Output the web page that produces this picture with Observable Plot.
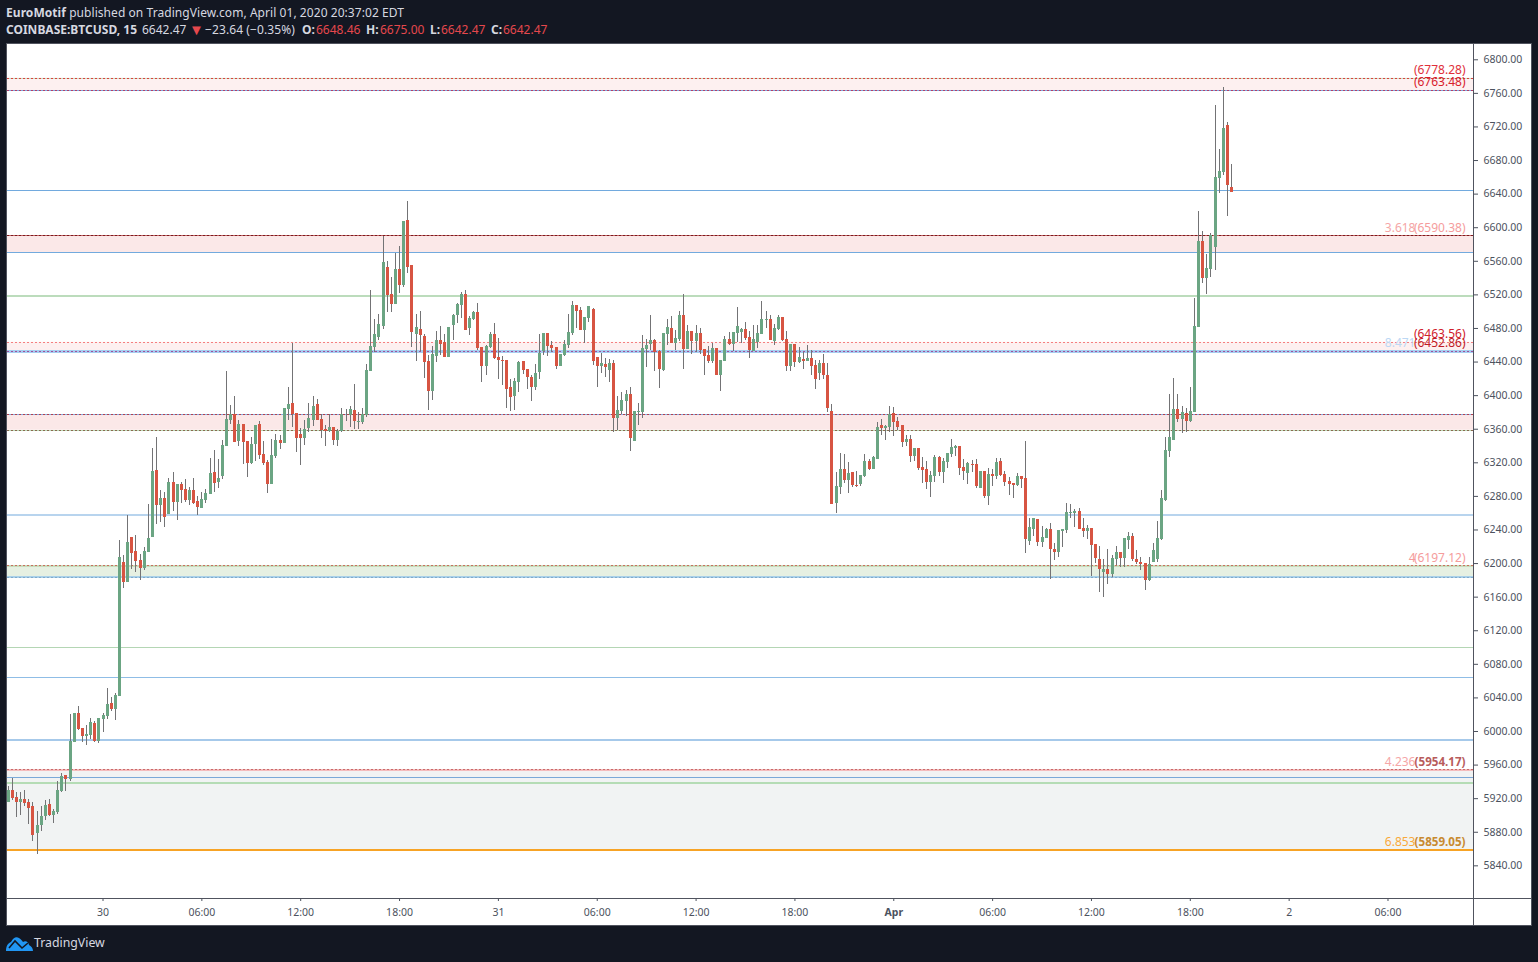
<!DOCTYPE html>
<html><head><meta charset="utf-8">
<script src="https://cdn.jsdelivr.net/npm/d3@7"></script>
<script src="https://cdn.jsdelivr.net/npm/@observablehq/plot@0.6"></script>
<style>
html,body{margin:0;padding:0;background:#131722;width:1538px;height:962px;overflow:hidden;font-family:"Noto Sans",sans-serif}
.ht{position:absolute;color:#d6d8e0;font-size:12px;line-height:16px;white-space:pre}
.l1{top:5px}.l2{top:22px}
b{font-weight:700}
.r{color:#e5484d}
#panel{position:absolute;left:6px;top:43px;width:1524px;height:881px;border:1px solid #50535e;background:#fff}
#panel svg{display:block}
.sep{position:absolute;background:#50535e}
#brand{position:absolute;left:34px;top:934px;color:#d6d8e0;font-size:12.3px;line-height:18px}
#logo{position:absolute;left:6px;top:935px}
</style></head><body>
<div class="ht l1" style="left:6px;letter-spacing:.06px"><b>EuroMotif</b> published on TradingView.com, April 01, 2020 20:37:02 EDT</div>
<div class="ht l2" style="left:6px"><b>COINBASE:BTCUSD, 15</b></div>
<div class="ht l2" style="left:142px">6642.47</div>
<div class="ht l2 r" style="left:189px;font-size:15px;top:21px">▼</div>
<div class="ht l2" style="left:205px;letter-spacing:.1px">−23.64 (−0.35%)</div>
<div class="ht l2" style="left:302px"><b>O:</b></div>
<div class="ht l2 r" style="left:316px">6648.46</div>
<div class="ht l2" style="left:366px"><b>H:</b></div>
<div class="ht l2 r" style="left:380px">6675.00</div>
<div class="ht l2" style="left:430px"><b>L:</b></div>
<div class="ht l2 r" style="left:441px">6642.47</div>
<div class="ht l2" style="left:491px"><b>C:</b></div>
<div class="ht l2 r" style="left:503px">6642.47</div>
<div id="panel"></div>
<svg id="logo" width="27" height="17" viewBox="0 0 27 17"><path d="M0 16C0 11 2 8 5 7C7 3 10 1 13 3C15 4 16 6 17 7C20 5 23 8 23 10C25 11 27 13 27 16Z" fill="#2196f3"/><path d="M3 13L9 6L16 13L22 8" fill="none" stroke="#131722" stroke-width="1.6"/></svg>
<div id="brand">TradingView</div>
<script>
const opens=[5915,5930,5921,5915,5919,5915,5911,5878,5888,5899,
5913,5900,5904,5929,5947,5943,5987,6021,6004,5994,
5995,6010,5988,6014,6018,6033,6026,6042,6201,6177,
6231,6214,6204,6194,6213,6231,6311,6269,6278,6258,
6297,6273,6294,6288,6275,6287,6274,6266,6275,6282,
6309,6297,6304,6340,6370,6377,6345,6366,6345,6319,
6342,6366,6330,6320,6294,6328,6347,6343,6384,6391,
6379,6354,6349,6361,6370,6390,6372,6360,6357,6362,
6347,6357,6377,6376,6382,6368,6368,6376,6429,6457,
6469,6482,6553,6520,6509,6550,6531,6609,6555,6473,
6479,6470,6441,6405,6447,6466,6463,6445,6484,6495,
6507,6520,6480,6491,6499,6457,6435,6457,6473,6445,
6442,6442,6410,6399,6416,6441,6431,6422,6410,6428,
6452,6474,6460,6457,6435,6448,6460,6474,6507,6501,
6478,6492,6503,6445,6435,6437,6430,6438,6373,6381,
6393,6401,6345,6380,6380,6455,6461,6466,6453,6430,
6473,6480,6462,6467,6495,6455,6476,6464,6474,6455,
6448,6441,6456,6424,6441,6467,6461,6474,6475,6479,
6469,6453,6463,6473,6490,6491,6464,6479,6493,6467,
6435,6461,6439,6443,6441,6444,6436,6426,6438,6424,
6381,6272,6291,6312,6299,6308,6293,6294,6304,6322,
6312,6324,6364,6361,6362,6379,6369,6364,6344,6348,
6328,6337,6314,6312,6297,6304,6326,6308,6320,6330,
6337,6339,6314,6307,6318,6318,6289,6310,6280,6306,
6304,6322,6306,6298,6295,6293,6304,6301,6226,6241,
6253,6225,6230,6241,6217,6213,6238,6239,6260,6260,
6262,6242,6238,6242,6223,6205,6189,6193,6187,6205,
6213,6206,6227,6232,6205,6201,6200,6180,6201,6205,
6229,6275,6333,6347,6384,6372,6379,6369,6380,6481,
6584,6540,6550,6576,6659,6666,6722,6648.46];
const closes=[5930,5920,5915,5919,5914,5908,5876,5888,5899,5912,
5900,5905,5930,5946,5943,5988,6021,6002,5994,5996,
6011,5988,6016,6019,6032,6026,6043,6207,6177,6225,
6212,6202,6194,6214,6230,6310,6269,6278,6255,6297,
6273,6294,6287,6275,6287,6272,6267,6276,6284,6307,
6295,6301,6341,6372,6378,6344,6366,6344,6319,6342,
6365,6329,6319,6294,6329,6347,6343,6385,6390,6378,
6349,6349,6360,6373,6387,6370,6359,6357,6362,6347,
6357,6378,6378,6384,6369,6369,6378,6430,6459,6473,
6485,6559,6519,6509,6550,6531,6607,6553,6475,6481,
6472,6439,6405,6449,6466,6461,6445,6481,6495,6509,
6520,6478,6492,6499,6456,6435,6458,6473,6444,6442,
6441,6407,6398,6417,6439,6430,6422,6410,6426,6450,
6474,6458,6456,6435,6449,6461,6475,6507,6500,6478,
6493,6506,6441,6435,6438,6434,6438,6373,6382,6394,
6401,6349,6381,6381,6456,6460,6466,6451,6431,6474,
6481,6462,6468,6495,6455,6476,6464,6474,6454,6447,
6441,6456,6424,6442,6467,6461,6475,6482,6479,6468,
6454,6467,6474,6491,6491,6466,6480,6493,6466,6435,
6461,6439,6445,6441,6444,6435,6419,6438,6424,6385,
6270,6292,6312,6299,6307,6293,6292,6305,6322,6312,
6326,6362,6361,6363,6378,6368,6362,6344,6348,6328,
6337,6313,6311,6297,6305,6326,6308,6322,6331,6338,
6339,6313,6310,6319,6317,6292,6310,6280,6306,6304,
6320,6305,6297,6294,6293,6304,6300,6229,6243,6254,
6225,6231,6241,6217,6213,6239,6241,6261,6261,6262,
6241,6238,6242,6222,6206,6193,6193,6187,6206,6213,
6206,6230,6232,6205,6201,6199,6180,6199,6216,6230,
6278,6335,6350,6384,6372,6380,6369,6381,6482,6584,
6540,6551,6591,6660,6667,6718,6650,6642.47];
const highs=[5935,5944,5927,5927,5930,5919,5915,5905,5911,5918,
5919,5907,5940,5950,5948,6020,6021,6030,6004,6007,
6015,6012,6016,6021,6051,6041,6045,6228,6210,6257,
6231,6233,6211,6219,6270,6337,6350,6287,6285,6301,
6309,6294,6297,6300,6291,6301,6280,6285,6288,6325,
6335,6324,6347,6429,6388,6399,6370,6366,6345,6350,
6365,6369,6345,6323,6348,6354,6353,6385,6410,6462,
6379,6361,6370,6391,6399,6395,6378,6365,6378,6362,
6360,6385,6383,6387,6413,6380,6385,6437,6525,6491,
6497,6590,6560,6541,6569,6578,6607,6631,6555,6497,
6500,6473,6448,6458,6476,6482,6473,6481,6497,6510,
6523,6525,6494,6500,6510,6457,6460,6475,6486,6468,
6447,6442,6419,6420,6441,6441,6431,6424,6437,6473,
6474,6474,6465,6457,6449,6466,6497,6512,6507,6505,
6493,6506,6504,6445,6450,6444,6443,6442,6399,6404,
6406,6410,6381,6391,6472,6467,6495,6467,6454,6474,
6491,6494,6478,6500,6520,6484,6476,6484,6480,6455,
6459,6462,6456,6442,6470,6475,6475,6505,6480,6487,
6476,6484,6484,6512,6500,6495,6485,6495,6493,6476,
6461,6461,6457,6451,6460,6454,6442,6442,6449,6438,
6389,6308,6331,6330,6320,6308,6310,6305,6330,6324,
6327,6368,6372,6364,6387,6386,6374,6364,6352,6352,
6337,6337,6326,6322,6310,6329,6327,6325,6331,6348,
6341,6339,6324,6320,6323,6324,6310,6310,6313,6312,
6325,6325,6310,6303,6295,6307,6304,6345,6254,6254,
6253,6244,6242,6248,6224,6239,6241,6272,6270,6264,
6266,6254,6245,6242,6223,6220,6205,6217,6210,6220,
6213,6230,6237,6236,6216,6207,6200,6207,6224,6250,
6287,6350,6401,6420,6401,6387,6385,6410,6516,6619,
6596,6568,6593,6746,6693,6767,6725,6675];
const lows=[5915,5918,5897,5900,5911,5889,5869,5853,5881,5894,
5899,5890,5901,5927,5929,5940,5987,6001,5987,5983,
5990,5987,5986,5999,6014,6024,6013,6042,6170,6177,
6193,6189,6180,6192,6213,6231,6247,6249,6243,6258,
6262,6251,6272,6273,6269,6270,6257,6266,6272,6282,
6285,6289,6300,6340,6366,6344,6340,6318,6303,6318,
6322,6324,6317,6284,6294,6325,6336,6343,6370,6362,
6332,6317,6341,6356,6363,6370,6349,6340,6356,6341,
6340,6356,6369,6362,6360,6360,6366,6374,6429,6451,
6466,6479,6499,6499,6509,6522,6529,6545,6457,6441,
6453,6420,6382,6394,6439,6448,6445,6445,6466,6486,
6492,6478,6472,6490,6454,6416,6424,6456,6443,6419,
6412,6385,6381,6382,6404,6425,6407,6393,6406,6419,
6448,6447,6451,6431,6435,6447,6456,6472,6480,6478,
6462,6487,6436,6410,6426,6422,6416,6356,6358,6378,
6375,6333,6345,6364,6373,6434,6454,6429,6409,6429,
6460,6462,6454,6464,6431,6455,6449,6451,6449,6424,
6438,6438,6424,6405,6441,6460,6453,6463,6462,6466,
6444,6453,6456,6473,6480,6466,6460,6478,6464,6429,
6429,6434,6438,6431,6441,6424,6407,6418,6419,6380,
6270,6260,6282,6295,6283,6291,6291,6292,6303,6311,
6312,6324,6353,6347,6356,6351,6359,6338,6339,6320,
6322,6311,6295,6288,6279,6297,6304,6295,6313,6326,
6327,6305,6299,6294,6308,6289,6289,6278,6269,6292,
6300,6304,6292,6281,6278,6292,6289,6212,6222,6232,
6220,6219,6230,6181,6204,6207,6219,6236,6254,6243,
6241,6231,6229,6185,6200,6166,6160,6175,6183,6198,
6195,6195,6217,6202,6199,6192,6168,6179,6201,6201,
6227,6274,6326,6347,6368,6355,6356,6368,6380,6481,
6534,6520,6541,6549,6641,6662,6613,6642.47];

const yTicks=[5840,5880,5920,5960,6000,6040,6080,6120,6160,6200,6240,6280,6320,6360,6400,6440,6480,6520,6560,6600,6640,6680,6720,6760,6800];
const xTickHours=[0,6,12,18,24,30,36,42,48,54,60,66,72,78];
const xTickLabels=["30","06:00","12:00","18:00","31","06:00","12:00","18:00","Apr","06:00","12:00","18:00","2","06:00"];

const zoneTop=[6778.28,6590.38,6463.56,6377,6197.12,5954.17];
const zoneBottom=[6763.48,6570.2,6452.86,6358.8,6183.9,5859.05];
const zoneFill=["#fdf0f0","#fbe8e8","#fdf0f0","#fbe8e8","#e6f0e2","#f1f3f3"];

const solidValue=[6778.28,6763.48,6644,6590.38,6570.2,6519,6452.86,6377,6358.8,6257.5,6197.12,6183.9,6099.5,6063.9,5990.4,5954.17,5944.8,5939.2,5859.05];
const solidColor=["#c3e2c3","#7da8dc","#72aade","#c06060","#72aade","#bcdcbc","#a6cdf0","#86aede","#b8d8b4","#b8d4ee","#c8dcbc","#a9d0e8","#b4d6b4","#8fbde6","#a6c9ea","#f4bcbc","#7aa9d8","#b5dcb5","#f7a325"];
const solidWidth=[1,1,1,1,1,2,3,1,1,2,2,2,1,1,2,2,1,2,2];
const dottedValue=[6778.28,6763.48,6590.38,6463.56,6452.86,6377,6358.8,6197.12,6183.9,5954.17];
const dottedColor=["#d8433f","#b0406a","#7a1a1e","#f47f7f","#a0509a","#b04050","#8a6a50","#c8705f","#80aacc","#c96a6a"];

const labelValue=[6778.28,6763.48,6590.38,6463.56,6452.86,6197.12,5954.17,5859.05];
const labelPrice=["(6778.28)","(6763.48)","(6590.38)","(6463.56)","(6452.86)","(6197.12)","(5954.17)","(5859.05)"];
const labelRatio=["","","3.618","","8.471","4","4.236","6.853"];
const labelPriceColor=["#e0303a","#d8202c","#f59c9c","#d0202c","#c01c28","#f59c9c","#b85c5c","#c88a30"];
const labelRatioColor=["","","#f5a6a6","","#bcd8f4","#f59c9c","#f5a6a6","#f9a93a"];
const labelBold=[false,false,false,false,false,false,true,true];

const T0=Date.UTC(2020,2,30), Q=15*60*1000;
const tAt=k=>new Date(T0+k*Q);
const candles=opens.map((o,i)=>({t:tAt(i-23),o,c:closes[i],h:highs[i],l:lows[i]}));
const zones=zoneTop.map((a,i)=>({a,b:zoneBottom[i],f:zoneFill[i]}));
const solids=solidValue.map((v,i)=>({v,c:solidColor[i],w:solidWidth[i]}));
const dots=dottedValue.map((v,i)=>({v,c:dottedColor[i]}));
const labels=labelValue.map((v,i)=>({v,p:labelPrice[i],r:labelRatio[i],pc:labelPriceColor[i],rc:labelRatioColor[i],b:labelBold[i]}));
const ticks=xTickHours.map((h,i)=>({d:tAt(h*4),s:xTickLabels[i]}));
const labelOf=new Map(ticks.map(t=>[+t.d,t.s]));
const fmtX=d=>labelOf.get(+d);
const plain=ticks.filter(t=>t.s!=="Apr").map(t=>t.d), bold=ticks.filter(t=>t.s==="Apr").map(t=>t.d);
const AX="#4c525e";
const FF='"Noto Sans",sans-serif';

const chart=Plot.plot({
  width:1524,height:881,marginLeft:0,marginRight:58,marginTop:0,marginBottom:27,
  style:{background:"#fff",fontFamily:FF,fontSize:"10.5px",color:AX},
  x:{type:"utc",domain:[tAt(-23.19),tAt(332.76)],range:[0,1466]},
  y:{type:"linear",domain:[5801.1,6818.2],range:[854,0]},
  marks:[
    Plot.rect(zones,{y1:"a",y2:"b",fill:d=>d.f}),
    Plot.ruleY(solids,{y:"v",stroke:d=>d.c,strokeWidth:d=>d.w,shapeRendering:"crispEdges"}),
    Plot.ruleY(dots,{y:"v",stroke:d=>d.c,strokeWidth:1,strokeDasharray:"2 2",shapeRendering:"crispEdges"}),
    Plot.ruleX(candles,{x:"t",y1:"l",y2:"h",stroke:"#737375",strokeWidth:1,shapeRendering:"crispEdges"}),
    Plot.ruleX(candles,{x:"t",y1:"o",y2:"c",stroke:d=>d.c>=d.o?"#6ba583":"#d75442",strokeWidth:3,shapeRendering:"crispEdges"}),
    Plot.text(labels.filter(d=>d.r),{y:"v",text:"r",fill:d=>d.rc,frameAnchor:"right",textAnchor:"end",dx:-58,dy:-8,fontSize:12}),
    Plot.text(labels.filter(d=>!d.b),{y:"v",text:"p",fill:d=>d.pc,frameAnchor:"right",textAnchor:"end",dx:-8,dy:-8,fontSize:12}),
    Plot.text(labels.filter(d=>d.b),{y:"v",text:"p",fill:d=>d.pc,frameAnchor:"right",textAnchor:"end",dx:-8,dy:-8,fontSize:11.6,fontWeight:700}),
    Plot.axisY({anchor:"right",ticks:yTicks,tickFormat:d=>d.toFixed(2),tickSize:4,tickPadding:6,color:AX,label:null}),
    Plot.axisX({anchor:"bottom",ticks:plain,tickFormat:fmtX,tickSize:3,tickPadding:7,color:AX,label:null}),
    Plot.axisX({anchor:"bottom",ticks:bold,tickFormat:fmtX,tickSize:3,tickPadding:7,color:AX,fontWeight:"bold",label:null})
  ]
});
const panel=document.getElementById("panel");
panel.appendChild(chart);
function sep(css){const s=document.createElement("div");s.className="sep";s.style.cssText=css;panel.appendChild(s);}
sep("left:1466px;top:0;width:1px;height:881px");
sep("left:0;top:854px;width:1524px;height:1px");
</script>
</body></html>
